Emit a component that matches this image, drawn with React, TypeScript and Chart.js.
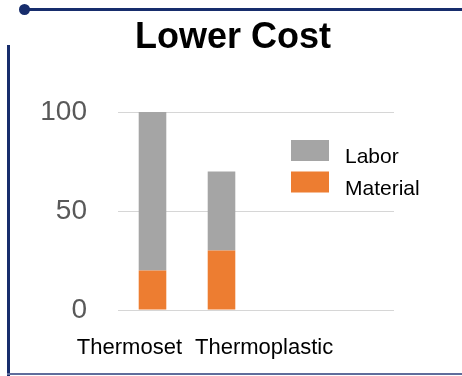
import React, { useEffect, useRef } from 'react';
import { Chart, registerables } from 'chart.js';

Chart.register(...registerables);

const titleText = 'Lower Cost';
const categories = ['Thermoset', 'Thermoplastic', '', ''];
const materialValues = [20, 30, null, null];
const laborValues = [80, 40, null, null];
const yTickValues = [0, 50, 100];
const seriesNames = ['Material', 'Labor'];
const seriesColors = ['#ED7D31', '#A5A5A5'];

const FONT = "'Liberation Sans', Arial, sans-serif";
const NAVY = '#172d6c';

const overlayPlugin = {
  id: 'overlayText',
  afterDraw(chart: any) {
    const ctx = chart.ctx;
    const xs = chart.scales.x;
    const area = chart.chartArea;
    ctx.save();
    // title
    ctx.font = `bold 36px ${FONT}`;
    ctx.fillStyle = '#000000';
    ctx.textAlign = 'center';
    ctx.textBaseline = 'alphabetic';
    ctx.fillText(titleText, chart.width / 2 + 2, 48);

    // category labels
    ctx.font = `22px ${FONT}`;
    const boundary = xs.getPixelForValue(0.5);
    const baseY = xs.top + 44;
    ctx.textAlign = 'right';
    ctx.fillText(categories[0], boundary - 5, baseY);
    ctx.textAlign = 'left';
    ctx.fillText(categories[1], boundary + 8, baseY);

    // legend (reverse order: Labor on top)
    const ds = chart.data.datasets;
    const order = [1, 0];
    ctx.font = `21px ${FONT}`;
    ctx.textAlign = 'left';
    order.forEach((di, row) => {
      const bx = area.right - 103;
      const by = area.top + 28 + row * 31.5;
      ctx.fillStyle = ds[di].backgroundColor;
      ctx.fillRect(bx, by, 38, 21);
      ctx.fillStyle = '#000000';
      ctx.fillText(ds[di].label, bx + 54, by + 23);
    });
    ctx.restore();
  },
};

export default function App() {
  const ref = useRef<HTMLCanvasElement | null>(null);

  useEffect(() => {
    if (!ref.current) return;
    const chart = new Chart(ref.current, {
      type: 'bar',
      data: {
        labels: categories,
        datasets: [
          {
            label: seriesNames[0],
            data: materialValues,
            backgroundColor: seriesColors[0],
            barPercentage: 0.4,
            categoryPercentage: 1,
          },
          {
            label: seriesNames[1],
            data: laborValues,
            backgroundColor: seriesColors[1],
            barPercentage: 0.4,
            categoryPercentage: 1,
          },
        ],
      },
      options: {
        responsive: false,
        animation: false,
        layout: { padding: { left: 0, right: 68, top: 112, bottom: 0 } },
        plugins: {
          legend: { display: false },
          tooltip: { enabled: false },
          title: { display: false },
        },
        scales: {
          x: {
            stacked: true,
            grid: { display: false },
            border: { display: false },
            ticks: { display: false },
            afterFit: (s: any) => {
              s.height = 66;
            },
          },
          y: {
            stacked: true,
            min: 0,
            max: 100,
            grid: { color: '#d6d6d6', lineWidth: 1, drawTicks: false },
            border: { display: false },
            ticks: {
              padding: 31,
              color: '#595959',
              font: { family: FONT, size: 28 },
            },
            afterBuildTicks: (s: any) => {
              s.ticks = yTickValues.map((v) => ({ value: v }));
            },
            afterFit: (s: any) => {
              s.width = 118;
            },
          },
        },
      },
      plugins: [overlayPlugin],
    });
    return () => chart.destroy();
  }, []);

  return (
    <div
      style={{
        position: 'fixed',
        left: 0,
        top: 0,
        width: 462,
        height: 376,
        background: '#ffffff',
        overflow: 'hidden',
      }}
    >
      <canvas ref={ref} width={462} height={376} style={{ position: 'absolute', left: 0, top: 0 }} />
      <div style={{ position: 'absolute', left: 24, top: 7.5, width: 438, height: 3, background: NAVY }} />
      <div
        style={{
          position: 'absolute',
          left: 19,
          top: 3.5,
          width: 11,
          height: 11,
          borderRadius: '50%',
          background: NAVY,
        }}
      />
      <div style={{ position: 'absolute', left: 7, top: 45, width: 3, height: 331, background: NAVY }} />
      <div style={{ position: 'absolute', left: 7, top: 373, width: 455, height: 2, background: '#5f6d9c' }} />
    </div>
  );
}
